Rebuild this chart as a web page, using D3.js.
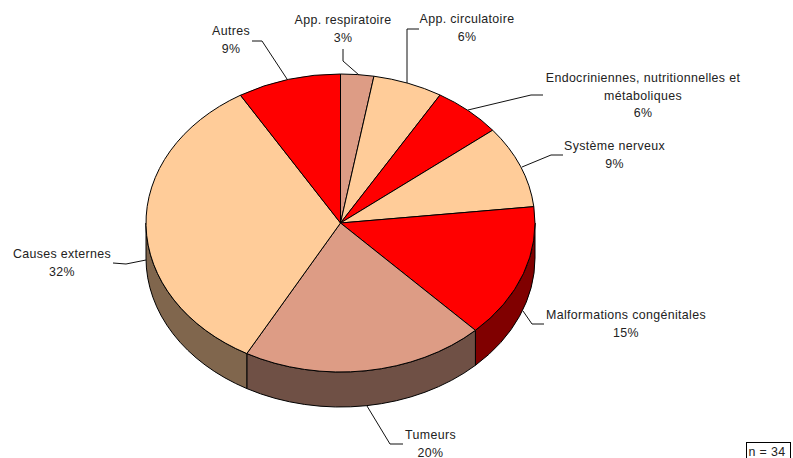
<!DOCTYPE html>
<html>
<head>
<meta charset="utf-8">
<script src="https://cdn.jsdelivr.net/npm/d3@7/dist/d3.min.js"></script>
<style>
html,body{margin:0;padding:0;background:#fff;overflow:hidden}
svg{display:block}
text{font-family:"Liberation Sans",Arial,sans-serif;font-size:12.4px;letter-spacing:.35px;fill:#222;text-anchor:middle}
</style>
</head>
<body>
<svg id="chart" width="793" height="458"></svg>
<script>
const categories = ["App. respiratoire","App. circulatoire","Endocriniennes","Système nerveux","Malformations congénitales","Tumeurs","Causes externes","Autres"];
const labelLines = [["App. respiratoire"],["App. circulatoire"],["Endocriniennes, nutritionnelles et","métaboliques"],["Système nerveux"],["Malformations congénitales"],["Tumeurs"],["Causes externes"],["Autres"]];
const shares = [2.75,5.8,5.75,8.95,14.55,20.2,33.4,8.6];
const percentLabels = ["3%","6%","6%","9%","15%","20%","32%","9%"];
const topColors = ["#DD9C85","#FFCC99","#FF0000","#FFCC99","#FF0000","#DD9C85","#FFCC99","#FF0000"];
const sideColors = ["#6F5045","#80664D","#800000","#80664D","#800000","#6F5045","#80664D","#800000"];

// layout
const cx = 340.5, cy = 223, rx = 194.5, ry = 149, depth = 35;
const labelPos = [[343,20],[467,19],[643,78],[614.5,146],[626,315],[430.5,435],[62,254],[231,31]];
const leaders = [
  [[359,75],[343,61],[343,49]],
  [[407,83],[407,29],[419,29]],
  [[468,110],[531,95],[543,95]],
  [[522,167],[551,155],[563,155]],
  [[523,311],[532,324],[544,324]],
  [[367,406],[390,444],[403,444]],
  [[146,260],[126,264],[113,263]],
  [[287,79],[262,41],[252,41]]
];

const svg = d3.select("#chart");
const pie = d3.pie().sort(null).value(d => d);
const arcs = pie(shares);
const arc = d3.arc().innerRadius(0).outerRadius(rx);

const px = a => cx + rx * Math.sin(a);
const py = a => cy - ry * Math.cos(a);

// side walls: only the front half of the disc (angles 90deg..270deg from the top)
const walls = svg.append("g");
arcs.forEach((d, i) => {
  const a0 = Math.max(d.startAngle, Math.PI / 2), a1 = Math.min(d.endAngle, 3 * Math.PI / 2);
  if (a1 <= a0) return;
  const p = `M${px(a0)},${py(a0)}A${rx},${ry} 0 0 1 ${px(a1)},${py(a1)}` +
            `L${px(a1)},${py(a1) + depth}A${rx},${ry} 0 0 0 ${px(a0)},${py(a0) + depth}Z`;
  walls.append("path").attr("d", p).attr("fill", sideColors[i])
    .attr("stroke", "#000").attr("stroke-width", 1).attr("stroke-linejoin", "round");
});

// top face
svg.append("g")
  .attr("transform", `translate(${cx},${cy}) scale(1,${ry / rx})`)
  .selectAll("path").data(arcs).join("path")
  .attr("d", arc)
  .attr("fill", (d, i) => topColors[i])
  .attr("stroke", "#000").attr("stroke-width", 1)
  .attr("vector-effect", "non-scaling-stroke")
  .attr("stroke-linejoin", "round");

// leaders
const line = d3.line();
svg.append("g").selectAll("path").data(leaders).join("path")
  .attr("d", line).attr("fill", "none").attr("stroke", "#111").attr("stroke-width", 1);

// labels
const lh = 17.5;
const g = svg.append("g");
categories.forEach((c, i) => {
  const lines = labelLines[i].concat(percentLabels[i]);
  const t = g.append("text").attr("transform", `translate(${labelPos[i][0]},${labelPos[i][1] + 4})`);
  lines.forEach((s, j) => t.append("tspan").attr("x", 0).attr("y", j * lh).text(s));
});

// n box
svg.append("rect").attr("x", 746.5).attr("y", 442.5).attr("width", 44).attr("height", 30)
  .attr("fill", "#fff").attr("stroke", "#000").attr("stroke-width", 1);
svg.append("text").attr("x", 767).attr("y", 455.5).text("n = 34");
</script>
</body>
</html>
